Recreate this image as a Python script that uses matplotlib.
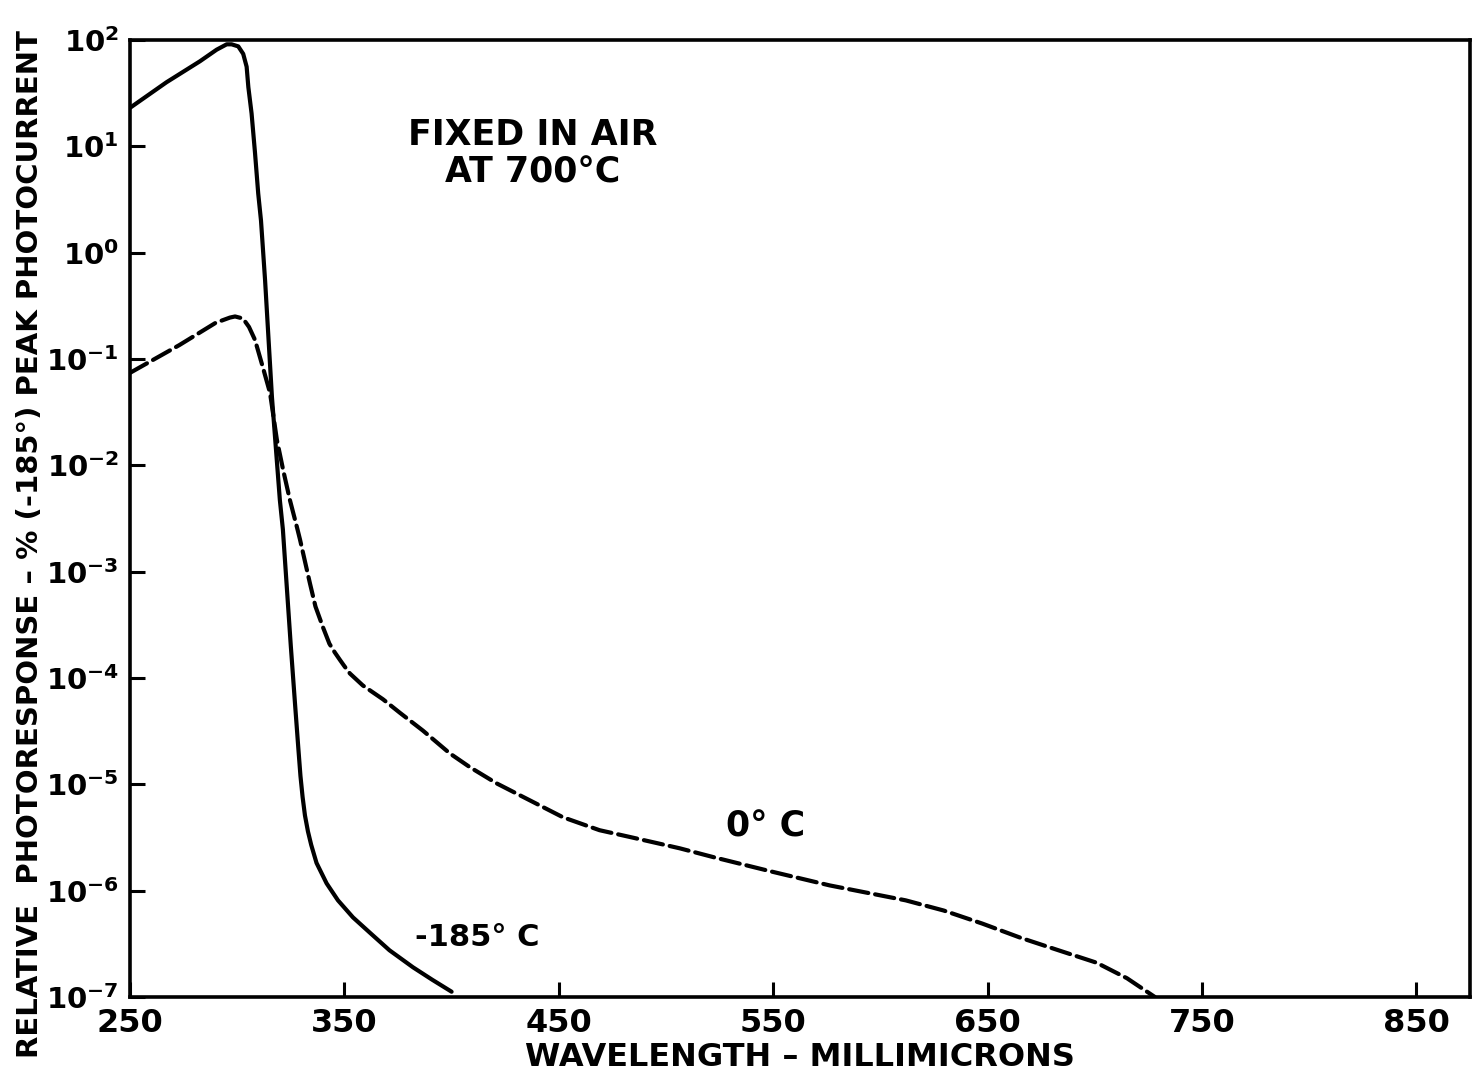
import matplotlib
matplotlib.use("Agg")
import matplotlib.pyplot as plt

# Photoresponse spectra (percent of peak photocurrent at -185 deg C)
wl_cold = [250, 267, 282.6, 290.4, 295.1, 297.4, 300.5, 302.8, 304.4, 305.2,
           306.7, 308.3, 309.8, 311.1, 313, 316.2, 319.9, 321.3, 325, 327,
           328.5, 329.5, 330.5, 331.6, 333, 334.5, 337, 341.7, 347, 354, 362,
           371, 382, 391, 400]
resp_cold = [23, 40, 63, 81, 91, 91, 87, 74, 56, 36,
             20.4, 8.7, 3.6, 2.0, 0.55, 0.044, 4.7e-3, 2.5e-3, 2.0e-4, 5.6e-5,
             2.2e-5, 1.2e-5, 7.6e-6, 5.1e-6, 3.6e-6, 2.7e-6, 1.82e-6,
             1.17e-6, 8.1e-7, 5.6e-7, 4.0e-7, 2.75e-7, 1.9e-7, 1.45e-7,
             1.12e-7]

wl_zero = [250, 273, 290, 296.6, 299, 302.7, 305.5, 308.3, 312, 315.3, 318.5,
           321.5, 324.6, 327.9, 329.3, 333.9, 336.5, 340, 343, 345.5, 347.9,
           350, 352.6, 358.6, 368, 375.9, 386.6, 399.2, 408.5, 421, 451.9, 469,
           483, 495.7, 506.4, 522.7, 549.3, 576.3, 611.8, 629.5, 647.5, 665.4,
           683, 700.8, 715, 728]
resp_zero = [0.074, 0.135, 0.219, 0.245, 0.251, 0.240, 0.200, 0.151, 0.083,
             0.048, 0.0174, 0.0089, 0.0047, 0.0026, 0.0020, 7.8e-4, 4.7e-4,
             3.0e-4, 2.1e-4, 1.74e-4, 1.48e-4, 1.29e-4, 1.10e-4, 8.5e-5,
             6.3e-5, 4.7e-5, 3.2e-5, 1.95e-5, 1.45e-5, 1.02e-5, 4.9e-6, 3.7e-6,
             3.2e-6, 2.8e-6, 2.5e-6, 2.05e-6, 1.51e-6, 1.12e-6, 8.1e-7, 6.5e-7,
             4.9e-7, 3.6e-7, 2.75e-7, 2.1e-7, 1.5e-7, 1.0e-7]

x_ticks = [250, 350, 450, 550, 650, 750, 850]
x_ticklabels = ["250", "350", "450", "550", "650", "750", "850"]
y_exponents = [2, 1, 0, -1, -2, -3, -4, -5, -6, -7]

plt.rcParams["font.family"] = ["DejaVu Sans"]
plt.rcParams["font.weight"] = "bold"
plt.rcParams["mathtext.default"] = "bf"
plt.rcParams["lines.scale_dashes"] = False

fig = plt.figure(figsize=(14.79, 10.86), dpi=100)
ax = fig.add_axes([0.0879, 0.082, 0.9060, 0.8812])

ax.plot(wl_cold, resp_cold, color="black", lw=3.0, solid_capstyle="round",
        solid_joinstyle="round")
ax.plot(wl_zero, resp_zero, color="black", lw=3.0, dashes=(14, 5),
        dash_capstyle="round", dash_joinstyle="round")

ax.set_yscale("log")
ax.set_xlim(250, 875)
ax.set_ylim(1e-7, 1e2)

ax.set_xticks(x_ticks)
ax.set_xticklabels(x_ticklabels)
ax.set_yticks([10.0 ** e for e in y_exponents])
ax.set_yticklabels([r"$\mathbf{10^{%d}}$" % e for e in y_exponents])
ax.yaxis.set_minor_locator(matplotlib.ticker.NullLocator())

ax.tick_params(axis="both", direction="in", length=11, width=2.2,
               colors="black")
ax.tick_params(axis="x", pad=8, labelsize=23)
ax.tick_params(axis="y", pad=8, labelsize=21)
for s in ax.spines.values():
    s.set_linewidth(2.6)

ax.set_xlabel("WAVELENGTH – MILLIMICRONS", fontsize=23, fontweight="bold",
              labelpad=2)
ax.set_ylabel("RELATIVE  PHOTORESPONSE – % (-185°) PEAK PHOTOCURRENT",
              fontsize=21, fontweight="bold")
ax.yaxis.set_label_coords(-0.064, 0.473)

ax.text(438, 12.8, "FIXED IN AIR", fontsize=25, ha="center", va="center")
ax.text(438, 5.7, "AT 700°C", fontsize=25, ha="center", va="center")
ax.text(546.5, 4.0e-6, "0° C", fontsize=25, ha="center", va="center")
ax.text(412, 3.6e-7, "-185° C", fontsize=22, ha="center", va="center")

fig.savefig("out.png", dpi=100)
